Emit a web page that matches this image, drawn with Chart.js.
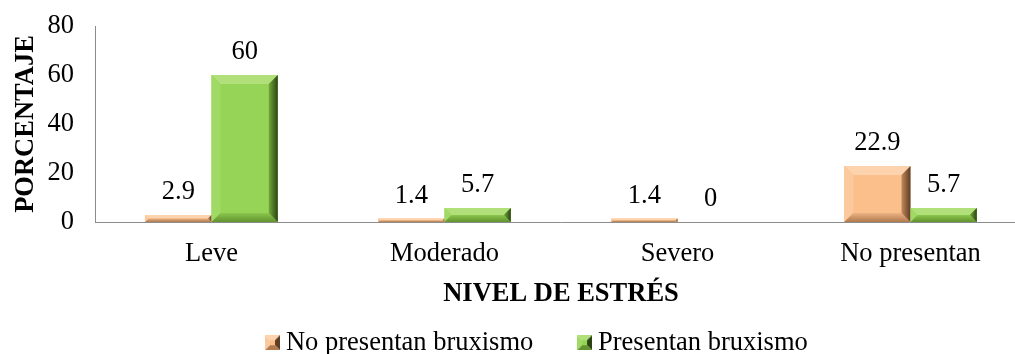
<!DOCTYPE html>
<html>
<head>
<meta charset="utf-8">
<script src="https://cdn.jsdelivr.net/npm/chart.js@4.4.0/dist/chart.umd.min.js"></script>
<style>
  html, body { margin: 0; padding: 0; background: #ffffff; overflow: hidden; }
  #wrap { position: absolute; left: 0; top: 0; width: 1040px; height: 366px; }
</style>
</head>
<body>
<div id="wrap"><canvas id="c" width="1040" height="366"></canvas></div>
<script>
// ---- data ----
const categories = ['Leve', 'Moderado', 'Severo', 'No presentan'];
const seriesNames = ['No presentan bruxismo', 'Presentan bruxismo'];
const noBruxismo = [2.9, 1.4, 1.4, 22.9];
const siBruxismo = [60, 5.7, 0, 5.7];
const yTicks = [0, 20, 40, 60, 80];
const yTitle = 'PORCENTAJE';
const xTitle = 'NIVEL DE ESTRÉS';

// ---- styles ----
const FONT = '"Liberation Serif", "Times New Roman", serif';
const FS = 26.5;
const palettes = [
  { face: '#FBBF8C', top: '#FDD3AE', left: '#FCC99D', rightOut: '#5E3D24', rightIn: '#C08A5E',
    bottomOut: '#B07A4E', bottomIn: '#EBB283' },
  { face: '#96D457', top: '#B1E07A', left: '#A1D965', rightOut: '#2A4511', rightIn: '#72A83A',
    bottomOut: '#62932F', bottomIn: '#8AC64D' }
];

function makeMarker(p) {
  const c = document.createElement('canvas');
  c.width = 15; c.height = 15;
  const g = c.getContext('2d');
  const s = 15, m = 7.5;
  const tri = (pts, col) => { g.beginPath(); g.moveTo(pts[0][0], pts[0][1]); for (let i = 1; i < pts.length; i++) g.lineTo(pts[i][0], pts[i][1]); g.closePath(); g.fillStyle = col; g.fill(); };
  tri([[0,0],[s,0],[m,m]], p.top);
  tri([[0,0],[m,m],[0,s]], p.left);
  tri([[s,0],[s,s],[m,m]], p.rightOut);
  tri([[0,s],[m,m],[s,s]], p.bottomOut);
  g.fillStyle = p.face;
  g.fillRect(m - 2.5, m - 2.5, 5, 5);
  return c;
}
const markers = palettes.map(makeMarker);

function poly(ctx, pts, fill) {
  ctx.beginPath();
  ctx.moveTo(pts[0][0], pts[0][1]);
  for (let i = 1; i < pts.length; i++) ctx.lineTo(pts[i][0], pts[i][1]);
  ctx.closePath();
  ctx.fillStyle = fill;
  ctx.fill();
}

const bevelAndLabels = {
  id: 'bevelAndLabels',
  afterLayout(chart) {
    // shift legend so its items sit where the reference draws them
    chart.legend.left = 53;
  },
  afterDatasetsDraw(chart) {
    const ctx = chart.ctx;
    ctx.save();
    chart.data.datasets.forEach((ds, di) => {
      const p = palettes[di];
      const meta = chart.getDatasetMeta(di);
      meta.data.forEach((el) => {
        const w = el.width;
        const l = el.x - w / 2, r = el.x + w / 2, t = el.y, b = el.base;
        const h = b - t;
        if (h <= 0.5) return;
        const k = Math.min(9, h / 2, w / 2);
        poly(ctx, [[l, t], [r, t], [r - k, t + k], [l + k, t + k]], p.top);
        poly(ctx, [[l, t], [l + k, t + k], [l + k, b - k], [l, b]], p.left);
        const gb = ctx.createLinearGradient(0, b, 0, b - k);
        gb.addColorStop(0, p.bottomOut);
        gb.addColorStop(1, p.bottomIn);
        poly(ctx, [[l, b], [l + k, b - k], [r - k, b - k], [r, b]], gb);
        const gr = ctx.createLinearGradient(r, 0, r - k, 0);
        gr.addColorStop(0, p.rightOut);
        gr.addColorStop(1, p.rightIn);
        poly(ctx, [[r, t], [r, b], [r - k, b - k], [r - k, t + k]], gr);
      });
    });
    ctx.fillStyle = '#000';
    ctx.font = FS + 'px ' + FONT;
    ctx.textAlign = 'center';
    ctx.textBaseline = 'alphabetic';
    chart.data.datasets.forEach((ds, di) => {
      const meta = chart.getDatasetMeta(di);
      meta.data.forEach((el, i) => {
        ctx.fillText(String(ds.data[i]), el.x, el.y - 16);
      });
    });
    ctx.restore();
  }
};

new Chart(document.getElementById('c'), {
  type: 'bar',
  data: {
    labels: categories,
    datasets: [
      { label: seriesNames[0], data: noBruxismo, backgroundColor: palettes[0].face, borderWidth: 0,
        categoryPercentage: 0.569, barPercentage: 1.0 },
      { label: seriesNames[1], data: siBruxismo, backgroundColor: palettes[1].face, borderWidth: 0,
        categoryPercentage: 0.569, barPercentage: 1.0 }
    ]
  },
  options: {
    responsive: false,
    animation: false,
    devicePixelRatio: 1,
    layout: { padding: { top: 26, left: 0, right: 13, bottom: 0 } },
    plugins: {
      tooltip: { enabled: false },
      legend: {
        position: 'bottom',
        labels: {
          usePointStyle: true,
          pointStyleWidth: 0.5,
          padding: 51,
          color: '#000',
          font: { family: FONT, size: FS },
          generateLabels: (chart) => chart.data.datasets.map((ds, i) => ({
            text: ds.label,
            fillStyle: palettes[i].face,
            strokeStyle: palettes[i].face,
            lineWidth: 0,
            pointStyle: markers[i],
            hidden: false,
            datasetIndex: i,
            fontColor: '#000'
          }))
        }
      }
    },
    scales: {
      x: {
        grid: { display: false, drawTicks: false },
        border: { display: true, color: '#8c8c8c', width: 1 },
        ticks: { color: '#000', padding: 16.6, font: { family: FONT, size: FS }, maxRotation: 0, autoSkip: false },
        title: { display: true, text: xTitle, color: '#000',
          font: { family: FONT, size: FS, weight: 'bold' },
          padding: { top: 0, bottom: -31.4 } },
        afterFit: (s) => { s.height = 56.5; s.paddingLeft = 0; s.paddingRight = 0; }
      },
      y: {
        min: 0, max: 80,
        grid: { display: false, drawTicks: false },
        border: { display: true, color: '#8c8c8c', width: 1 },
        afterBuildTicks: (s) => { s.ticks = yTicks.map(v => ({ value: v })); },
        ticks: { color: '#000', padding: 21, font: { family: FONT, size: FS } },
        title: { display: true, text: yTitle, color: '#000',
          font: { family: FONT, size: FS, weight: 'bold' },
          padding: { top: 10, bottom: 0 } },
        afterFit: (s) => { s.width = 95; s.paddingTop = 0; s.paddingBottom = 0; }
      }
    }
  },
  plugins: [bevelAndLabels]
});
</script>
</body>
</html>
